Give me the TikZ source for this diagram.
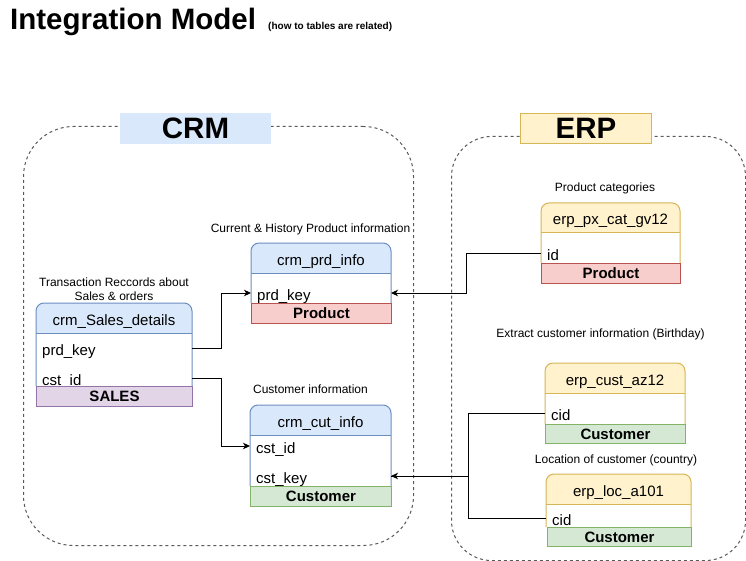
\documentclass[tikz,border=0pt]{standalone}
\usepackage{fontspec}
\setmainfont{Liberation Sans}
\usetikzlibrary{arrows.meta}
\definecolor{crmfill}{HTML}{DAE8FC}
\definecolor{crmline}{HTML}{6C8EBF}
\definecolor{erpfill}{HTML}{FFF2CC}
\definecolor{erpline}{HTML}{D6B656}
\definecolor{prodfill}{HTML}{F8CECC}
\definecolor{prodline}{HTML}{B85450}
\definecolor{custfill}{HTML}{D5E8D4}
\definecolor{custline}{HTML}{82B366}
\definecolor{salesfill}{HTML}{E1D5E7}
\definecolor{salesline}{HTML}{9673A6}
\definecolor{dashgray}{HTML}{5A5A5A}
\tikzset{
  container/.style={draw=dashgray, line width=1pt, dash pattern=on 3pt off 3pt, inner sep=0pt, anchor=north west},
  grouplabel/.style={inner sep=0pt, anchor=north west, line width=1pt, font=\bfseries\fontsize{29.5}{34}\selectfont},
  tblnode/.style={inner sep=0pt, outer sep=0pt},
  hdrtext/.style={anchor=base, inner sep=0pt, font=\fontsize{15}{18}\selectfont},
  field/.style={anchor=base west, inner sep=0pt, text height=14pt, text depth=0pt, font=\fontsize{15}{18}\selectfont},
  footer/.style={anchor=north west, inner sep=0pt, line width=1pt, minimum height=20pt, font=\bfseries\fontsize{15}{18}\selectfont},
  note/.style={anchor=base, inner sep=0pt, font=\fontsize{12}{14}\selectfont},
  conn/.style={draw=black, line width=1pt, -{Stealth[length=7pt,width=6.5pt,inset=2pt]}},
  plainconn/.style={draw=black, line width=1pt},
}
\newcommand\mytbl[7]{%
  \node[tblnode, minimum width={#4-#2}, minimum height={#5-#3}, anchor=north west] (#1) at (#2,#3) {};
  \fill[#6fill, rounded corners=8] (#2,#3) rectangle (#4,#3+30);
  \fill[#6fill] (#2,#3+15) rectangle (#4,#3+30);
  \draw[#6line, line width=1pt, rounded corners=8] (#2,#5) -- (#2,#3) -- (#4,#3) -- (#4,#5);
  \draw[#6line, line width=1pt] (#2,#3+30) -- (#4,#3+30);
  \node[hdrtext] (#1-title) at ({(#2+#4)/2},#3+22) {#7};
}
\begin{document}
\begin{tikzpicture}[x=1pt,y=-1pt]
\useasboundingbox (0,0) rectangle (746,561);
\fill[white] (0,0) rectangle (746,561);

% title
\node[anchor=base west, inner sep=0pt, font=\bfseries\fontsize{29.5}{34}\selectfont] (title) at (10,30) {Integration Model};
\node[anchor=base west, inner sep=0pt, font=\bfseries\fontsize{10}{12}\selectfont] (subtitle) at (268,30) {(how to tables are related)};

% containers
\node[container, rounded corners=50, minimum width=390, minimum height=419] (crmbox) at (23,126) {};
\node[container, rounded corners=40, minimum width=294, minimum height=424] (erpbox) at (451,136) {};
\node[grouplabel, fill=crmfill, draw=crmfill, minimum width=150, minimum height=30] (crmlabel) at (120,113) {CRM};
\node[grouplabel, fill=erpfill, draw=erpline, minimum width=131, minimum height=30] (erplabel) at (520,113) {ERP};

% notes
\node[note] (n1a) at (114,286) {Transaction Reccords about};
\node[note] (n1b) at (114,300) {Sales \& orders};
\node[note] (n2) at (310.5,233) {Current \& History Product information};
\node[note] (n3) at (310.5,393) {Customer information};
\node[note] (n4) at (605,192) {Product categories};
\node[note] (n5) at (600.5,337) {Extract customer information (Birthday)};
\node[note] (n6) at (616,463) {Location of customer (country)};

% tables
\mytbl{sales}{36}{303}{192}{386}{crm}{crm\_Sales\_details}
\mytbl{prd}{251}{243}{391}{303}{crm}{crm\_prd\_info}
\mytbl{cut}{250}{405}{391}{486}{crm}{crm\_cut\_info}
\mytbl{px}{541}{203}{680}{263}{erp}{erp\_px\_cat\_gv12}
\mytbl{cust}{545}{363}{685}{424}{erp}{erp\_cust\_az12}
\mytbl{loc}{546}{474}{691}{527}{erp}{erp\_loc\_a101}

% fields
\node[field] (sprd) at (42,355) {prd\_key};
\node[field] (scst) at (42,385) {cst\_id};
\node[field] (pprd) at (257,300) {prd\_key};
\node[field] (ccid) at (256,453) {cst\_id};
\node[field] (ckey) at (256,483) {cst\_key};
\node[field] (pxid) at (547,260) {id};
\node[field] (custcid) at (551,420) {cid};
\node[field] (loccid) at (552,525) {cid};

% footers
\node[footer, fill=salesfill, draw=salesline, minimum width=156] (salesfoot) at (36,386) {SALES};
\node[footer, fill=prodfill, draw=prodline, minimum width=140] (prdfoot) at (251,303) {Product};
\node[footer, fill=custfill, draw=custline, minimum width=141] (cutfoot) at (250,486) {Customer};
\node[footer, fill=prodfill, draw=prodline, minimum width=139] (pxfoot) at (541,263) {Product};
\node[footer, fill=custfill, draw=custline, minimum width=140, minimum height=19] (custfoot) at (545,424) {Customer};
\node[footer, fill=custfill, draw=custline, minimum width=144, minimum height=19] (locfoot) at (547,527) {Customer};

% connectors
\draw[conn] (sales.east |- sprd.west) -- ++(29,0) |- (prd.west |- pprd.west);
\draw[conn] (sales.east |- scst.west) -- ++(29,0) |- (cut.west |- ccid.west);
\draw[conn] (px.west |- pxid.west) -- ++(-75,0) |- (prd.east |- pprd.west);
\draw[plainconn] (loc.west |- loccid.west) -- ++(-78,0) |- (cut.east |- ckey.west);
\draw[conn] (cust.west |- custcid.west) -- ++(-77,0) |- (cut.east |- ckey.west);
\end{tikzpicture}
\end{document}
